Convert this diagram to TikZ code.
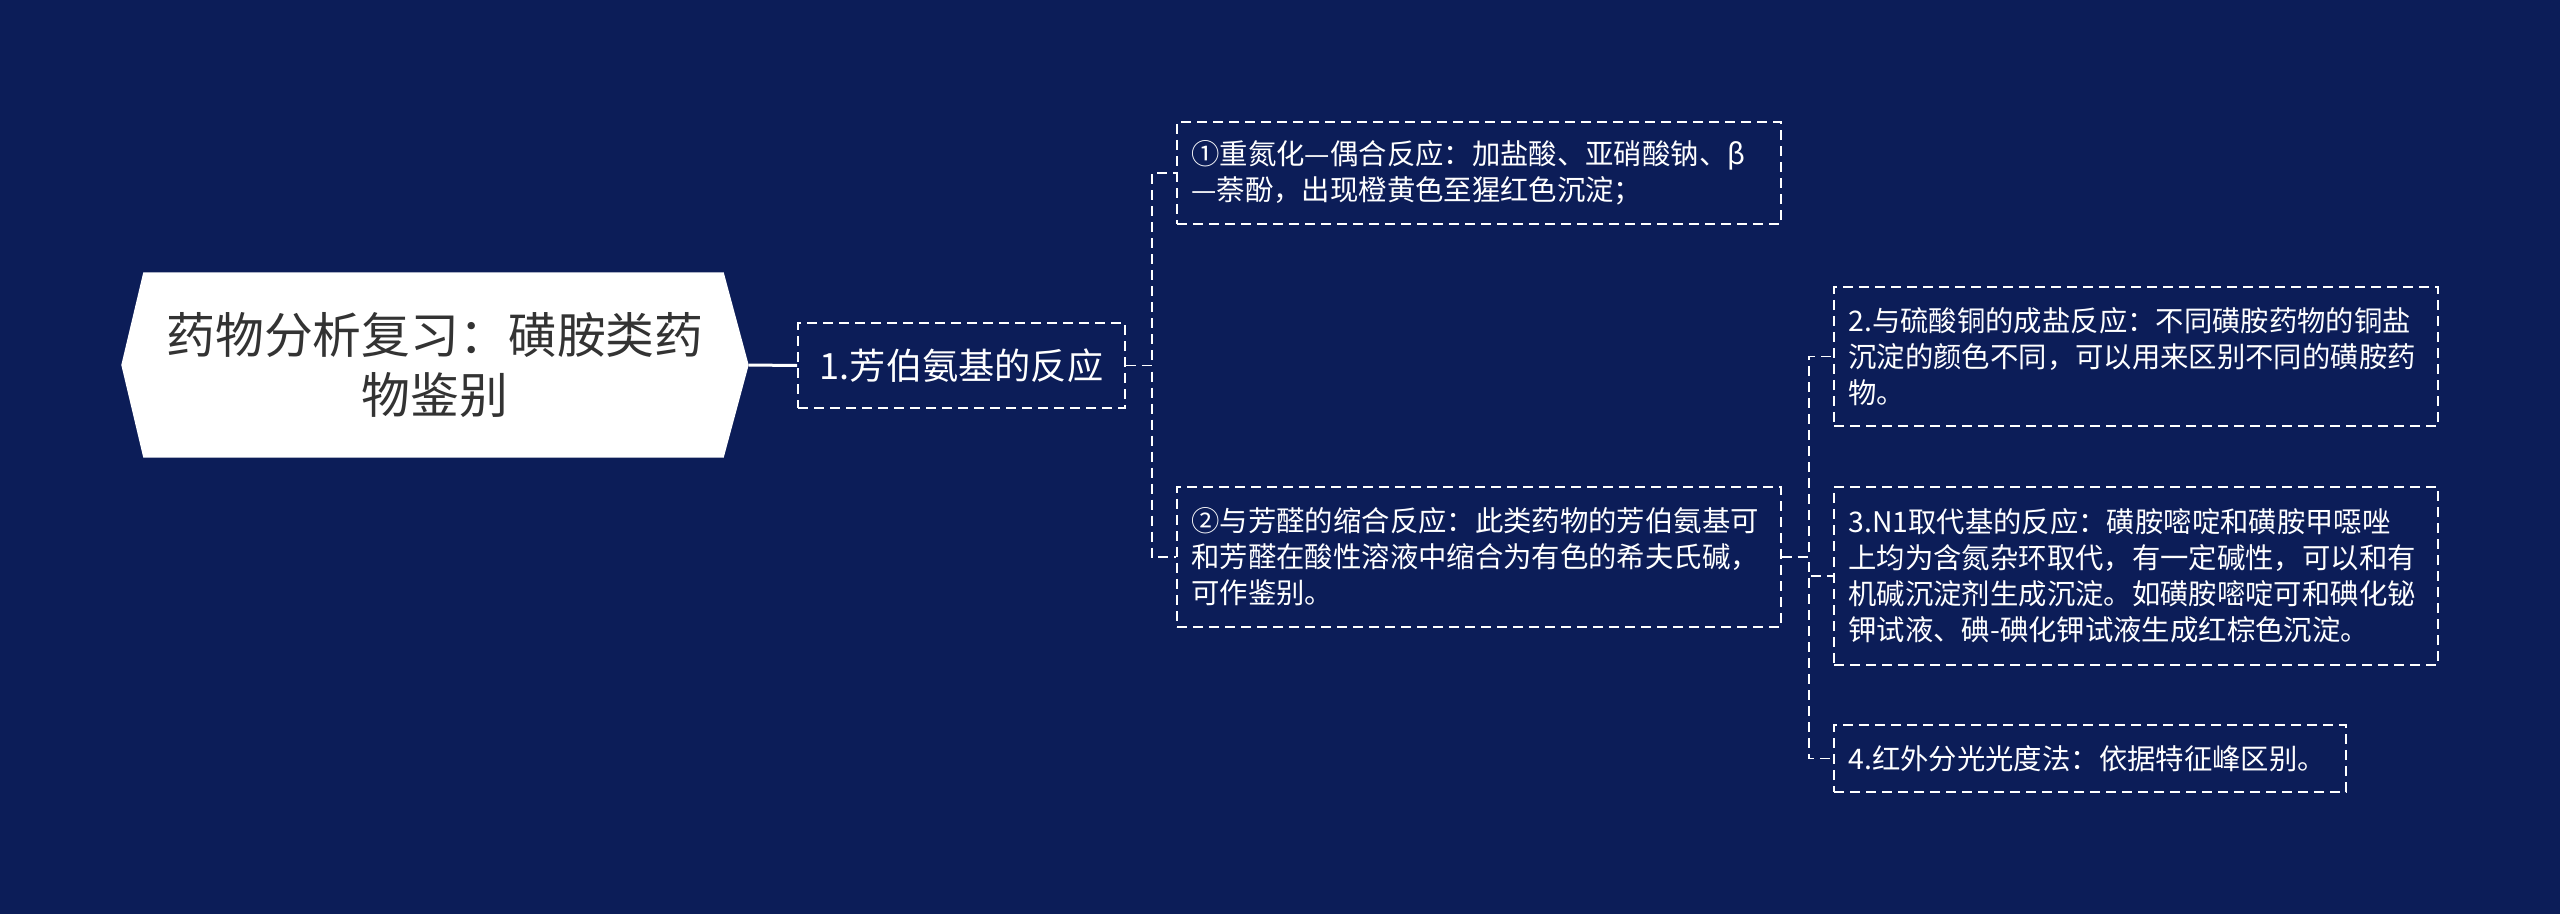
\documentclass[tikz,border=0pt]{standalone}
\usepackage{fontspec}
\setmainfont{Noto Sans CJK SC}
\usetikzlibrary{calc,backgrounds}
\definecolor{navy}{HTML}{0C1D58}
\definecolor{rootgray}{HTML}{333333}

\tikzset{
  rootbox/.style={minimum width=62.6mm, minimum height=18.4mm, text width=56mm, align=center,
    inner sep=0pt, text=rootgray, font=\fontsize{13.9pt}{17.1pt}\selectfont},
  topicbox/.style={draw=white, line width=0.17mm, dash pattern=on 1mm off 0.6mm, text=white,
    minimum width=32.7mm, minimum height=8.5mm, font=\fontsize{10.3pt}{12pt}\selectfont},
  leaf/.style={draw=white, line width=0.17mm, dash pattern=on 1mm off 0.6mm, text=white,
    align=left, text width=#1, inner xsep=1.45mm, inner ysep=0pt,
    font=\fontsize{8.07pt}{10.24pt}\selectfont},
  leaf/.default=57.5mm,
  link/.style={draw=white, line width=0.17mm, dash pattern=on 1mm off 0.6mm},
}

\begin{document}
\begin{tikzpicture}[x=0.1mm, y=-0.1mm]
    \useasboundingbox (0,0) rectangle (2560,914);
    % Root and first topic
    \node[rootbox] (root) at (435,365) {药物分析复习：磺胺类药\\物鉴别};
    \node[topicbox] (fan) at (961.5,365.5) {1.芳伯氨基的反应};
    % Reactions of the amino group
    \node[leaf, minimum height=10.2mm] (dz) at (1479,173)
         {①重氮化—偶合反应：加盐酸、亚硝酸钠、β\\—萘酚，出现橙黄色至猩红色沉淀；};
    \node[leaf, minimum height=14mm] (sq) at (1479,557)
         {②与芳醛的缩合反应：此类药物的芳伯氨基可\\和芳醛在酸性溶液中缩合为有色的希夫氏碱，\\可作鉴别。};
    % Further tests
    \node[leaf, minimum height=13.9mm] (cu) at (2136,356.5)
         {2.与硫酸铜的成盐反应：不同磺胺药物的铜盐\\沉淀的颜色不同，可以用来区别不同的磺胺药\\物。};
    \node[leaf, minimum height=17.8mm] (ni) at (2136,576)
         {3.N1取代基的反应：磺胺嘧啶和磺胺甲噁唑\\上均为含氮杂环取代，有一定碱性，可以和有\\机碱沉淀剂生成沉淀。如磺胺嘧啶可和碘化铋\\钾试液、碘-碘化钾试液生成红棕色沉淀。};
    \node[leaf=48.3mm, minimum height=6.7mm] (ir) at (2090,758.5)
         {4.红外分光光度法：依据特征峰区别。};
    % Background and root outline
    \begin{scope}[on background layer]
        \fill[navy] (0,0) rectangle (2560,914);
        \fill[white] ($(root.north west)+(22,0)$) -- (root.west) -- ($(root.south west)+(22,0)$)
             -- ($(root.south east)+(-25,0)$) -- (root.east) -- ($(root.north east)+(-25,0)$) -- cycle;
    \end{scope}
    % Connectors
    \draw[white, line width=0.3mm] (root.east) -- (fan.west);
    \draw[link] (fan.east) -- ++(26,0) |- (dz.west);
    \draw[link] (fan.east) -- ++(26,0) |- (sq.west);
    \draw[link] (sq.east) -- ++(27,0) |- (cu.west);
    \draw[link] (sq.east) -- ++(27,0) |- (ni.west);
    \draw[link] (sq.east) -- ++(27,0) |- (ir.west);
\end{tikzpicture}
\end{document}
